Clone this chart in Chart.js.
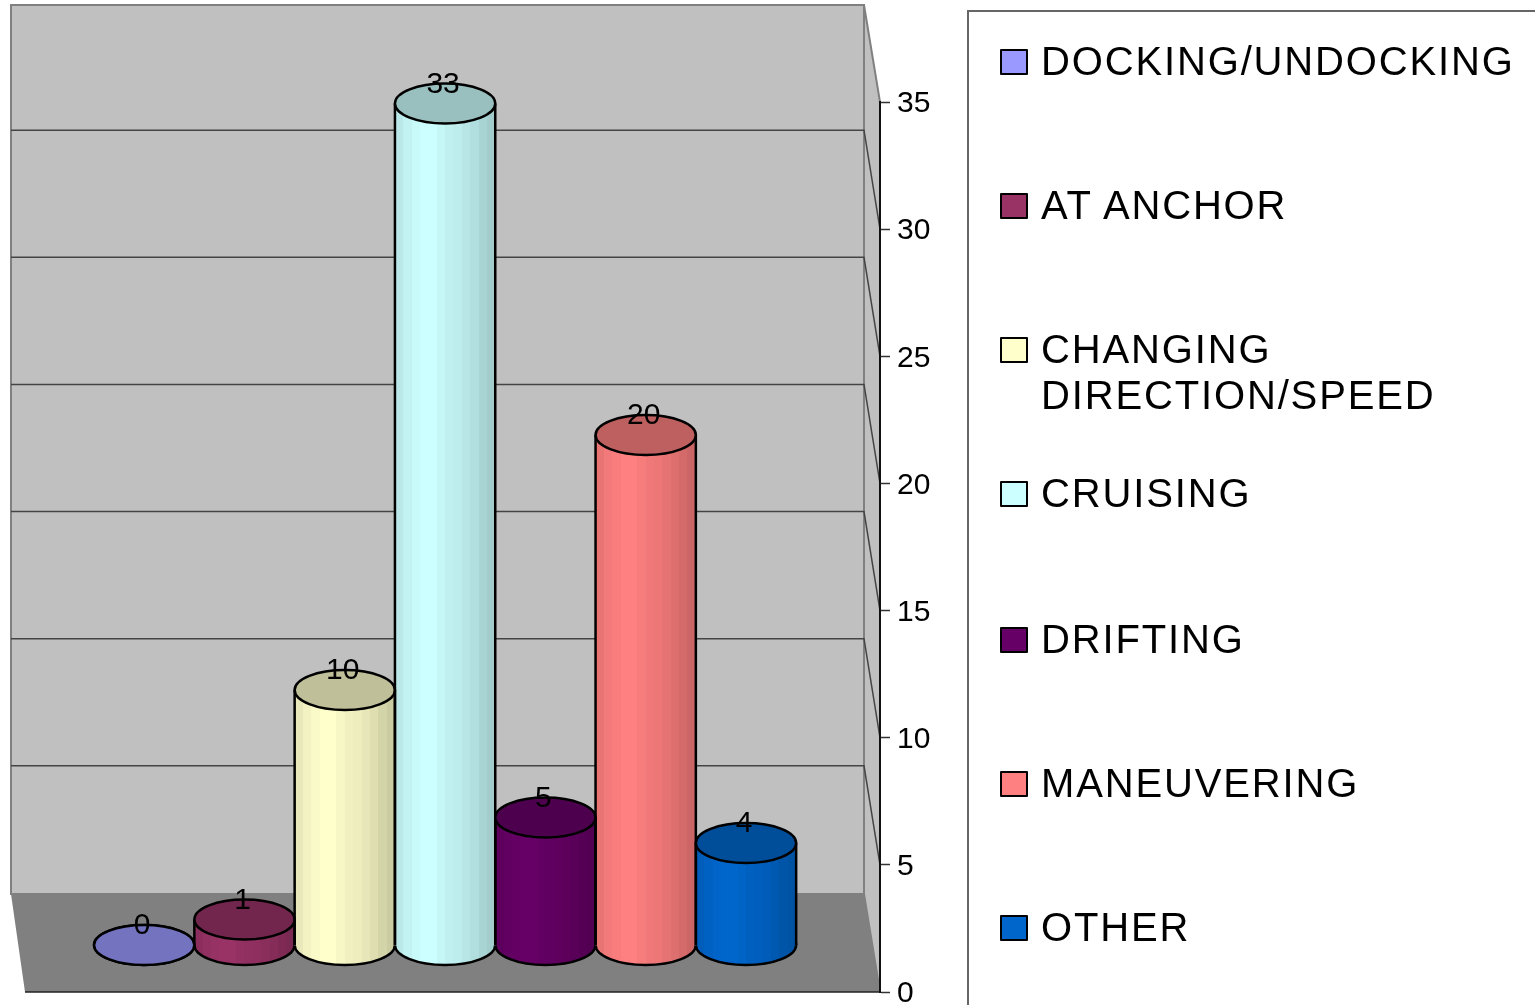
<!DOCTYPE html>
<html>
<head>
<meta charset="utf-8">
<title>Incidents by vessel activity</title>
<script src="https://cdn.jsdelivr.net/npm/chart.js@4"></script>
<style>
  html, body { margin: 0; padding: 0; background: #fff; overflow: hidden; }
  #wrap { position: relative; width: 1535px; height: 1005px; overflow: hidden; font-family: "Liberation Sans", Arial, sans-serif; }
  canvas { position: absolute; left: 0; top: 0; }
  #legend { position: absolute; left: 967px; top: 10px; width: 600px; height: 1040px; border: 2px solid #666; box-sizing: border-box; }
  .item { position: absolute; left: 31px; font-size: 40px; line-height: 46px; color: #000; white-space: nowrap; }
  .swatch { position: absolute; left: 0; top: 11px; width: 24px; height: 22px; border: 2.5px solid #000; border-radius: 1px; }
  .text { position: absolute; left: 41px; top: 0; letter-spacing: 1.85px; }
</style>
</head>
<body>
<div id="wrap">
  <canvas id="myChart" width="1535" height="1005"></canvas>
  <div id="legend"></div>
</div>
<script>
const categories = ["DOCKING/UNDOCKING", "AT ANCHOR", "CHANGING\nDIRECTION/SPEED", "CRUISING", "DRIFTING", "MANEUVERING", "OTHER"];
const values = [0, 1, 10, 33, 5, 20, 4];
const colors = ["#9999FF", "#993366", "#FFFFCC", "#CCFFFF", "#660066", "#FF8080", "#0066CC"];
const axisTicks = [0, 5, 10, 15, 20, 25, 30, 35];

const legendTops = [26, 170, 314, 458, 604, 748, 892];
const strips = [0.91, 0.95, 0.98, 1, 1, 0.97, 0.94, 0.93, 0.9, 0.87, 0.83, 0.8];
const wallDepth = 99;
const capHeight = 20;

function shade(hex, f) {
  const n = parseInt(hex.slice(1), 16);
  const r = Math.round((n >> 16) * f);
  const g = Math.round(((n >> 8) & 255) * f);
  const b = Math.round((n & 255) * f);
  return `rgb(${r},${g},${b})`;
}

function poly(ctx, pts, fill, stroke) {
  ctx.beginPath();
  pts.forEach((p, i) => (i ? ctx.lineTo(p[0], p[1]) : ctx.moveTo(p[0], p[1])));
  ctx.closePath();
  ctx.fillStyle = fill;
  ctx.fill();
  if (stroke) {
    ctx.strokeStyle = stroke;
    ctx.lineWidth = 2;
    ctx.stroke();
  }
}

function barGradient(context) {
  const chart = context.chart;
  const xs = chart.scales.x;
  const i = context.dataIndex;
  if (!xs || i === undefined) return colors[0];
  const left = xs.getPixelForValue(i - 0.5);
  const right = xs.getPixelForValue(i + 0.5);
  // scale not laid out yet on the first pass
  if (!isFinite(left) || !isFinite(right)) return colors[i];
  const g = chart.ctx.createLinearGradient(left, 0, right, 0);
  strips.forEach((f, s) => {
    g.addColorStop(s / strips.length, shade(colors[i], f));
    g.addColorStop((s + 1) / strips.length, shade(colors[i], f));
  });
  return g;
}

// walls and floor behind the bars, gridlines follow the axis ticks
const wallsPlugin = {
  id: "walls",
  beforeDraw(chart) {
    const { ctx, chartArea: a } = chart;
    const axis = chart.scales.yAxis;
    const backL = a.left;
    const backR = a.right - 16;
    const top = a.top - wallDepth + 2;
    const floor = a.bottom - wallDepth + 1;
    ctx.save();
    poly(ctx, [[backL, top], [backR, top], [backR, floor], [backL, floor]], "#C0C0C0", "#808080");
    poly(ctx, [[backR, top], [a.right, a.top], [a.right, a.bottom], [backR, floor]], "#C0C0C0", "#808080");
    poly(ctx, [[backL, floor], [backR, floor], [a.right, a.bottom], [a.left + 14, a.bottom]], "#808080");
    ctx.strokeStyle = "#444";
    ctx.lineWidth = 1.5;
    axisTicks.slice(1, -1).forEach((t) => {
      const y = axis.getPixelForValue(t);
      ctx.beginPath();
      ctx.moveTo(backL, y - wallDepth);
      ctx.lineTo(backR, y - wallDepth);
      ctx.lineTo(a.right, y);
      ctx.stroke();
    });
    ctx.beginPath();
    ctx.strokeStyle = "#222";
    ctx.moveTo(a.left + 14, a.bottom);
    ctx.lineTo(a.right, a.bottom);
    ctx.stroke();
    ctx.restore();
  },
};

// the cylinder ends and outlines, placed on the bar elements
const cylinderPlugin = {
  id: "cylinder",
  beforeDatasetsDraw(chart) {
    const { ctx } = chart;
    ctx.save();
    chart.getDatasetMeta(0).data.forEach((bar) => {
      ctx.beginPath();
      ctx.ellipse(bar.x, bar.base, bar.width / 2, capHeight, 0, 0, Math.PI * 2);
      ctx.fillStyle = bar.options.backgroundColor;
      ctx.fill();
      ctx.strokeStyle = "#000";
      ctx.lineWidth = 2.5;
      ctx.stroke();
    });
    ctx.restore();
  },
  afterDatasetsDraw(chart) {
    const { ctx } = chart;
    ctx.save();
    chart.getDatasetMeta(0).data.forEach((bar, i) => {
      const r = bar.width / 2;
      ctx.strokeStyle = "#000";
      ctx.lineWidth = 2.5;
      ctx.beginPath();
      ctx.moveTo(bar.x - r, bar.y);
      ctx.lineTo(bar.x - r, bar.base);
      ctx.moveTo(bar.x + r, bar.y);
      ctx.lineTo(bar.x + r, bar.base);
      ctx.stroke();
      ctx.beginPath();
      ctx.ellipse(bar.x, bar.y, r, capHeight, 0, 0, Math.PI * 2);
      ctx.fillStyle = shade(colors[i], 0.75);
      ctx.fill();
      ctx.stroke();
    });
    ctx.fillStyle = "#000";
    ctx.font = '30px "Liberation Sans", Arial, sans-serif';
    ctx.textAlign = "center";
    ctx.textBaseline = "middle";
    chart.getDatasetMeta(0).data.forEach((bar, i) => {
      ctx.fillText(String(values[i]), bar.x - 2, bar.y - 19);
    });
    ctx.restore();
  },
};

const legendBox = document.getElementById("legend");
categories.forEach((name, i) => {
  const item = document.createElement("div");
  item.className = "item";
  item.style.top = legendTops[i] + "px";
  const swatch = document.createElement("div");
  swatch.className = "swatch";
  swatch.style.background = colors[i];
  const text = document.createElement("div");
  text.className = "text";
  text.innerHTML = name.replace("\n", "<br>");
  item.appendChild(swatch);
  item.appendChild(text);
  legendBox.appendChild(item);
});

new Chart(document.getElementById("myChart").getContext("2d"), {
  type: "bar",
  data: {
    datasets: [
      {
        label: "Incidents",
        data: values.map((v, i) => ({ x: i, y: v })),
        backgroundColor: barGradient,
        borderWidth: 0,
        barPercentage: 1,
        categoryPercentage: 1,
        yAxisID: "y",
      },
    ],
  },
  plugins: [wallsPlugin, cylinderPlugin],
  options: {
    responsive: false,
    animation: false,
    layout: { padding: { left: 11, top: 102, right: 0, bottom: 13 } },
    plugins: { legend: { display: false }, tooltip: { enabled: false } },
    scales: {
      x: { type: "linear", display: false, offset: false, min: -1.328, max: 7.336 },
      // bars stand on the floor, which sits higher than the axis zero
      y: { display: false, min: -1.843, max: 33.06, position: "right" },
      yAxis: {
        position: "right",
        min: 0,
        max: 35,
        afterFit: (scale) => {
          scale.width = 655;
          scale.paddingTop = 0;
          scale.paddingBottom = 0;
        },
        afterBuildTicks: (scale) => { scale.ticks = axisTicks.map((value) => ({ value })); },
        grid: { drawOnChartArea: false, drawTicks: true, tickLength: 10, tickColor: "#333", tickWidth: 1.5 },
        border: { display: true, color: "#111", width: 2 },
        ticks: {
          color: "#000",
          padding: 7,
          labelOffset: 2,
          font: { family: '"Liberation Sans", Arial, sans-serif', size: 30 },
        },
      },
    },
  },
});
</script>
</body>
</html>
